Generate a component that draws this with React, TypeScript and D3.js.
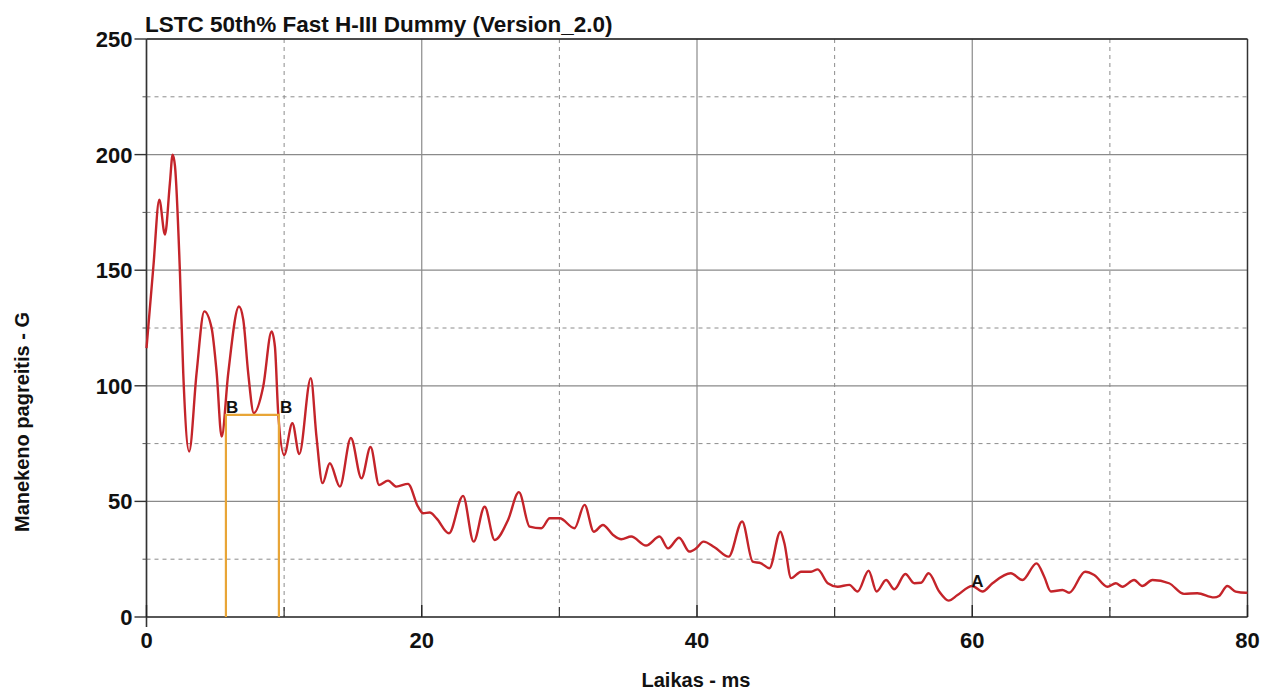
import React from "react";
import * as d3 from "d3";

const timeMs = [0, 0.5, 0.93, 1.34, 1.7, 1.9, 2.07, 2.43, 2.67, 3.1, 3.64, 4.2, 4.73, 5.1, 5.46, 5.94, 6.72, 7.03, 7.39, 7.8, 8.48, 9.09, 9.33, 9.57, 10.0, 10.6, 11.1, 11.94, 12.35, 12.79, 13.32, 14.05, 14.85, 15.62, 16.28, 16.9, 17.55, 18.16, 19.0, 19.73, 20.1, 20.58, 21.07, 21.98, 23.0, 23.77, 24.57, 25.3, 26.27, 27.06, 27.84, 28.69, 29.3, 30.02, 31.1, 31.83, 32.5, 33.16, 33.9, 34.5, 35.22, 36.3, 37.28, 37.9, 38.7, 39.45, 39.94, 40.47, 41.27, 42.3, 43.28, 44.05, 44.66, 45.26, 46.06, 46.35, 46.84, 47.56, 48.29, 48.77, 49.5, 50.22, 51.07, 51.67, 52.47, 53.05, 53.74, 54.34, 55.14, 55.79, 56.28, 56.83, 57.6, 58.28, 58.93, 60.0, 60.75, 61.47, 62.8, 63.65, 64.67, 65.23, 65.71, 66.56, 67.04, 68.2, 68.86, 69.82, 70.43, 70.91, 71.76, 72.36, 73.09, 74.3, 75.39, 76.36, 77.57, 77.93, 78.53, 79.14, 79.87, 80];
const accelG = [116.3, 151.6, 180.5, 165.4, 187.7, 200, 195, 149, 105.5, 71.6, 105.6, 132.2, 125, 105.5, 78, 105.5, 134.3, 128.6, 105.5, 88.2, 99.7, 123.5, 117, 88.2, 70.1, 83.8, 70.5, 103.3, 78, 57.9, 66.5, 56.4, 77.4, 60, 73.5, 57.1, 59, 56.4, 57.6, 47.7, 44.9, 45.2, 42.7, 36.2, 52.4, 32.6, 47.7, 33.3, 42, 54, 39.1, 38.4, 42.7, 42.7, 38.4, 48.5, 36.9, 39.8, 35.5, 33.6, 34.8, 30.9, 34.8, 29.7, 34.3, 28.3, 29.7, 32.6, 30.2, 26.1, 41.3, 23.9, 23.2, 21.1, 36.9, 31.9, 16.8, 19.6, 19.6, 20.6, 14.6, 13.1, 13.9, 11, 20, 11, 16, 12, 18.6, 14.6, 14.8, 18.9, 11, 7.1, 9.5, 13.4, 11, 14.6, 18.9, 16, 23.2, 17.4, 11, 11.7, 10.5, 19.6, 18.2, 13.1, 14.6, 13.1, 16, 13.4, 16, 14.6, 10, 10.3, 8.5, 9.1, 13.4, 11, 10.5, 10.5];

const xMajorTicks = [0, 20, 40, 60, 80];
const xMinorTicks = [10, 30, 50, 70];
const yMajorTicks = [0, 50, 100, 150, 200, 250];
const yMinorTicks = [25, 75, 125, 175, 225];

const boxStartMs = 5.77;
const boxEndMs = 9.62;
const boxLevelG = 87.4;
const markerAMs = 60;
const markerAG = 13.4;

const titleText = "LSTC 50th% Fast H-III Dummy (Version_2.0)";
const xLabelText = "Laikas - ms";
const yLabelText = "Manekeno pagreitis - G";

export default function App() {
  const x = d3.scaleLinear().domain([0, 80]).range([146.5, 1247.5]);
  const y = d3.scaleLinear().domain([0, 250]).range([617, 39]);
  const pts: [number, number][] = timeMs.map((t, i) => [t, accelG[i]]);
  const line = d3
    .line<[number, number]>()
    .x((d) => x(d[0]))
    .y((d) => y(d[1]))
    .curve(d3.curveMonotoneX);

  const font = "Arial, 'Liberation Sans', sans-serif";
  const x0 = x(0), x1 = x(80), y0 = y(0), y1 = y(250);

  return (
    <svg
      width={1271}
      height={693}
      style={{ position: "absolute", left: 0, top: 0, background: "#fff" }}
      fontFamily={font}
    >
      <rect x={0} y={0} width={1271} height={693} fill="#fff" />
      {xMinorTicks.map((t) => (
        <line key={"xm" + t} x1={x(t)} x2={x(t)} y1={y1} y2={y0} stroke="#8c8c8c" strokeWidth={1} strokeDasharray="4,4" />
      ))}
      {yMinorTicks.map((t) => (
        <line key={"ym" + t} x1={x0} x2={x1} y1={y(t)} y2={y(t)} stroke="#8c8c8c" strokeWidth={1} strokeDasharray="4,4" />
      ))}
      {xMajorTicks.map((t) => (
        <line key={"xM" + t} x1={x(t)} x2={x(t)} y1={y1} y2={y0} stroke="#8a8a8a" strokeWidth={1.2} />
      ))}
      {yMajorTicks.map((t) => (
        <line key={"yM" + t} x1={x0} x2={x1} y1={y(t)} y2={y(t)} stroke="#8a8a8a" strokeWidth={1.2} />
      ))}
      <line x1={x0} x2={x1} y1={y1} y2={y1} stroke="#222" strokeWidth={1.6} />
      <line x1={x1} x2={x1} y1={y1} y2={y0} stroke="#333" strokeWidth={1.4} />
      <line x1={x0} x2={x0} y1={y1} y2={y0 + 10} stroke="#333" strokeWidth={1.6} />
      <line x1={x0} x2={x1} y1={y0} y2={y0} stroke="#333" strokeWidth={1.6} />
      {yMajorTicks.map((t) => (
        <line key={"yt" + t} x1={x0 - 12} x2={x0} y1={y(t)} y2={y(t)} stroke="#333" strokeWidth={1.4} />
      ))}
      {yMinorTicks.map((t) => (
        <line key={"ytm" + t} x1={x0 - 4} x2={x0} y1={y(t)} y2={y(t)} stroke="#555" strokeWidth={1} />
      ))}
      {xMajorTicks.map((t) => (
        <line key={"xt" + t} x1={x(t)} x2={x(t)} y1={y0 - 12} y2={y0} stroke="#222" strokeWidth={1.4} />
      ))}
      {xMinorTicks.map((t) => (
        <line key={"xtm" + t} x1={x(t)} x2={x(t)} y1={y0 - 10} y2={y0} stroke="#333" strokeWidth={1.2} />
      ))}
      {yMajorTicks.map((t) => (
        <text key={"yl" + t} x={x0 - 14} y={y(t)} dy="0.36em" textAnchor="end" fontSize={22} fontWeight="bold" fill="#111">
          {t}
        </text>
      ))}
      {xMajorTicks.map((t) => (
        <text key={"xl" + t} x={x(t)} y={648} textAnchor="middle" fontSize={22} fontWeight="bold" fill="#111">
          {t}
        </text>
      ))}
      <path d={line(pts) || ""} fill="none" stroke="#c4242a" strokeWidth={2.4} strokeLinejoin="round" />
      <path
        d={`M${x(boxStartMs)},${y(0)}L${x(boxStartMs)},${y(boxLevelG)}L${x(boxEndMs)},${y(boxLevelG)}L${x(boxEndMs)},${y(0)}`}
        fill="none"
        stroke="#e8a537"
        strokeWidth={2.2}
      />
      <text x={x(boxStartMs)} y={y(boxLevelG) - 2} fontSize={17} fontWeight="bold" fill="#111">B</text>
      <text x={x(boxEndMs) + 1} y={y(boxLevelG) - 2} fontSize={17} fontWeight="bold" fill="#111">B</text>
      <text x={x(markerAMs) - 1} y={y(markerAG) + 1} fontSize={17} fontWeight="bold" fill="#111">A</text>
      <text x={145} y={32} fontSize={22.5} fontWeight="bold" fill="#111">{titleText}</text>
      <text x={696} y={687} textAnchor="middle" fontSize={20} fontWeight="bold" fill="#111">{xLabelText}</text>
      <text transform="translate(29,422) rotate(-90)" textAnchor="middle" fontSize={20} fontWeight="bold" fill="#111">
        {yLabelText}
      </text>
    </svg>
  );
}
